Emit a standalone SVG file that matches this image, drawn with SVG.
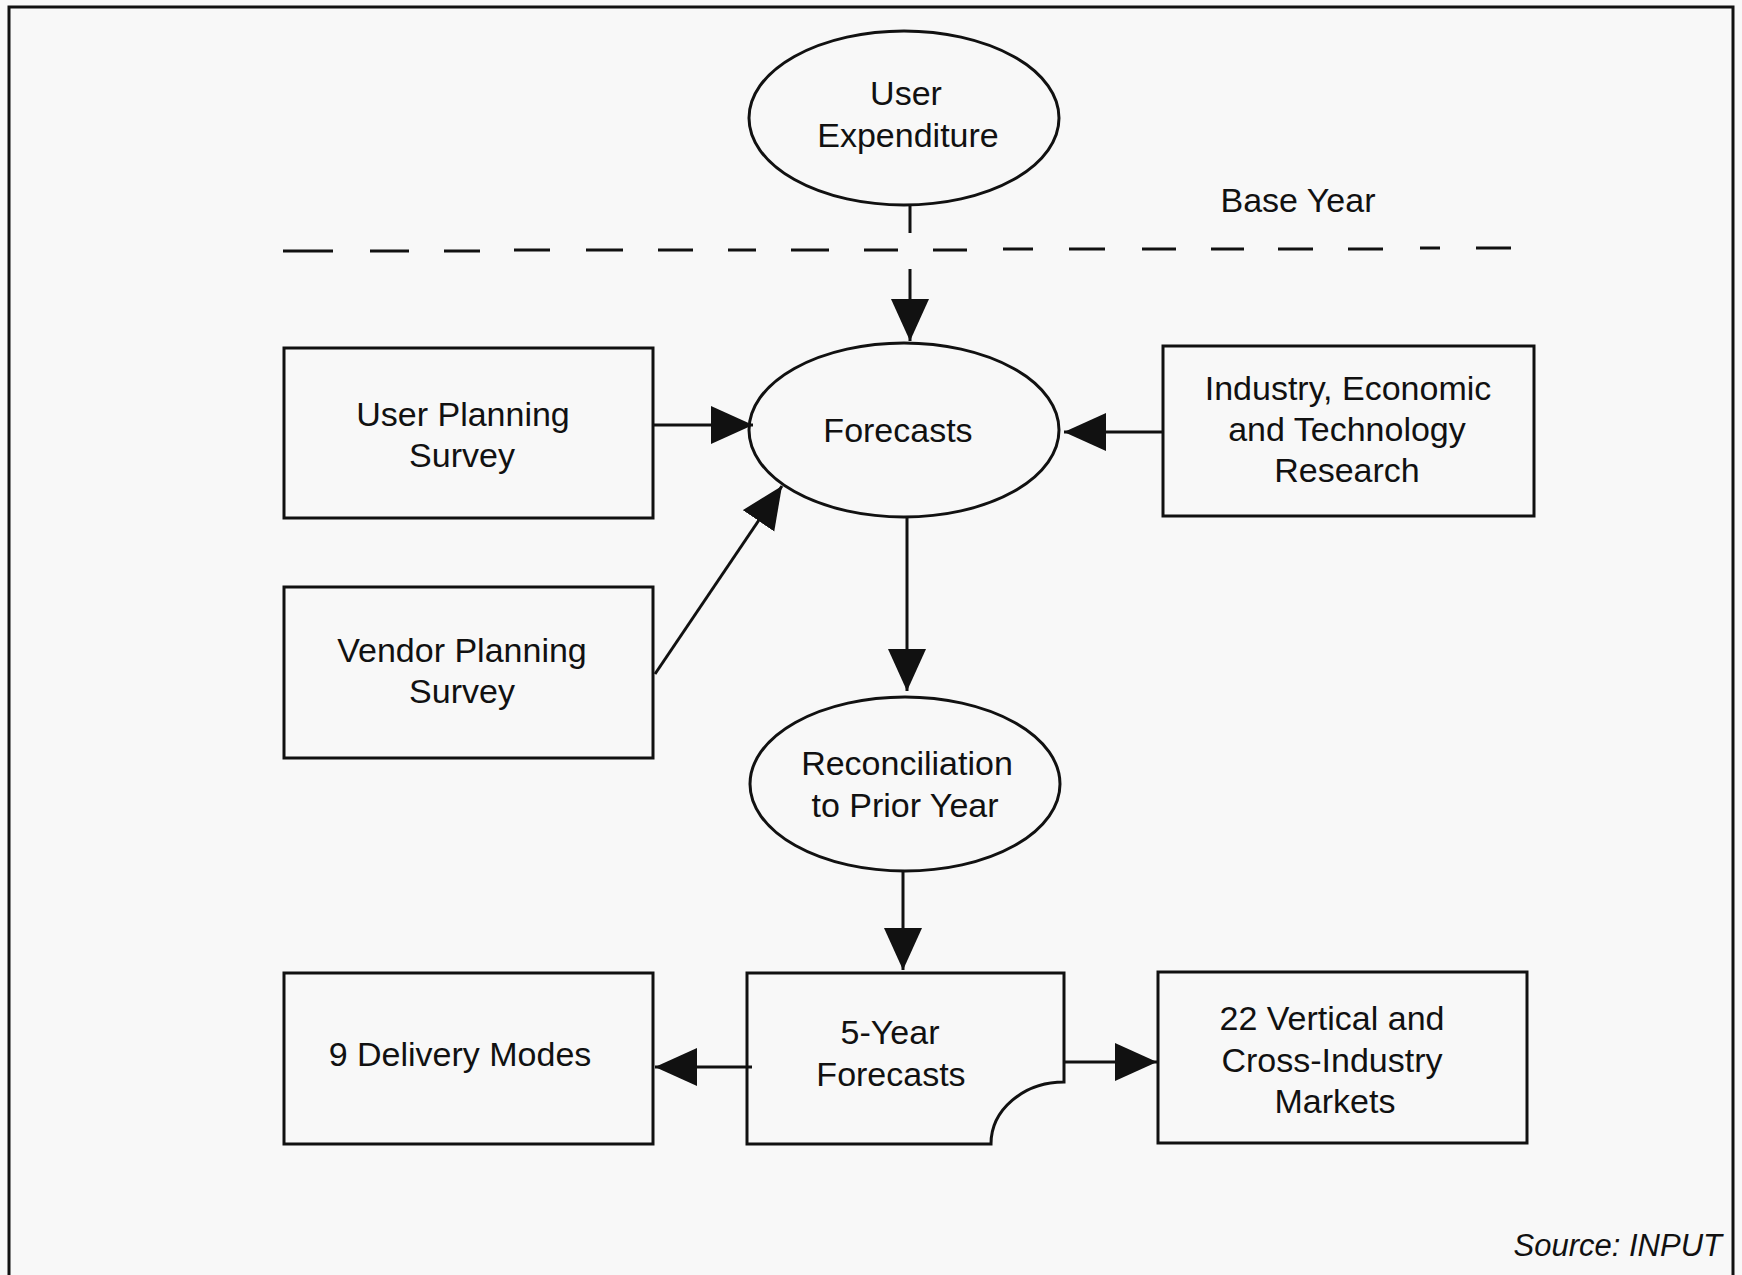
<svg xmlns="http://www.w3.org/2000/svg" width="1742" height="1275" viewBox="0 0 1742 1275">
<defs>
<style>
.shape{fill:none;stroke:#111;stroke-width:3}
.conn{fill:none;stroke:#111;stroke-width:3}
.t{font-family:"Liberation Sans",Arial,Helvetica,sans-serif;font-size:34px;fill:#111;text-anchor:middle}
.src{font-family:"Liberation Sans",Arial,Helvetica,sans-serif;font-size:31px;font-style:italic;fill:#111;text-anchor:end}
</style>
<marker id="ah" markerUnits="userSpaceOnUse" markerWidth="44" markerHeight="40" refX="42" refY="19" orient="auto" viewBox="0 0 44 40">
<path d="M0,0 L42,19 L0,38 Z" fill="#111"/>
</marker>
</defs>
<rect x="0" y="0" width="1742" height="1275" fill="#f8f8f8"/>
<path d="M9,1275 L9,7 L1733,7 L1733,1275" fill="none" stroke="#111" stroke-width="3"/>

<g id="base-year-divider">
<path d="M283,251 L333,251 M370,251 L409,251 M444,251 L480,251 M514,250 L550,250 M586,250 L623,250 M658,250 L693,250 M728,250 L756,250 M791,250 L829,250 M864,250 L898,250 M933,250 L967,250 M1003,249 L1033,249 M1069,249 L1105,249 M1142,249 L1176,249 M1211,249 L1244,249 M1278,249 L1313,249 M1348,249 L1383,249 M1420,248 L1440,248 M1476,248 L1511,248" fill="none" stroke="#111" stroke-width="3"/>
<text class="t" x="1298" y="212">Base Year</text>
</g>

<g id="user-expenditure">
<ellipse class="shape" cx="904" cy="118" rx="155" ry="87"/>
<text class="t" x="906" y="105">User</text>
<text class="t" x="908" y="147">Expenditure</text>
</g>

<g id="forecasts">
<ellipse class="shape" cx="904" cy="430" rx="155" ry="87"/>
<text class="t" x="898" y="442">Forecasts</text>
</g>

<g id="reconciliation">
<ellipse class="shape" cx="905" cy="784" rx="155" ry="87"/>
<text class="t" x="907" y="775">Reconciliation</text>
<text class="t" x="905" y="817">to Prior Year</text>
</g>

<g id="user-planning-survey">
<rect class="shape" x="284" y="348" width="369" height="170"/>
<text class="t" x="463" y="426">User Planning</text>
<text class="t" x="462" y="467">Survey</text>
</g>

<g id="vendor-planning-survey">
<rect class="shape" x="284" y="587" width="369" height="171"/>
<text class="t" x="462" y="662">Vendor Planning</text>
<text class="t" x="462" y="703">Survey</text>
</g>

<g id="industry-research">
<rect class="shape" x="1163" y="346" width="371" height="170"/>
<text class="t" x="1348" y="400">Industry, Economic</text>
<text class="t" x="1347" y="441">and Technology</text>
<text class="t" x="1347" y="482">Research</text>
</g>

<g id="delivery-modes">
<rect class="shape" x="284" y="973" width="369" height="171"/>
<text class="t" x="460" y="1066">9 Delivery Modes</text>
</g>

<g id="five-year-forecasts">
<path class="shape" d="M747,973 L1064,973 L1064,1082 A73,62 0 0 0 991,1144 L747,1144 Z"/>
<text class="t" x="890" y="1044">5-Year</text>
<text class="t" x="891" y="1086">Forecasts</text>
</g>

<g id="vertical-markets">
<rect class="shape" x="1158" y="972" width="369" height="171"/>
<text class="t" x="1332" y="1030">22 Vertical and</text>
<text class="t" x="1332" y="1072">Cross-Industry</text>
<text class="t" x="1335" y="1113">Markets</text>
</g>

<g id="connectors">
<line class="conn" x1="910" y1="204" x2="910" y2="233"/>
<line class="conn" x1="910" y1="269" x2="910" y2="341" marker-end="url(#ah)"/>
<line class="conn" x1="653" y1="425" x2="753" y2="425" marker-end="url(#ah)"/>
<line class="conn" x1="655" y1="674" x2="782" y2="486" marker-end="url(#ah)"/>
<line class="conn" x1="1163" y1="432" x2="1064" y2="432" marker-end="url(#ah)"/>
<line class="conn" x1="907" y1="517" x2="907" y2="691" marker-end="url(#ah)"/>
<line class="conn" x1="903" y1="871" x2="903" y2="970" marker-end="url(#ah)"/>
<line class="conn" x1="752" y1="1067" x2="655" y2="1067" marker-end="url(#ah)"/>
<line class="conn" x1="1064" y1="1062" x2="1157" y2="1062" marker-end="url(#ah)"/>
</g>

<text class="src" x="1722" y="1256">Source: INPUT</text>
</svg>
